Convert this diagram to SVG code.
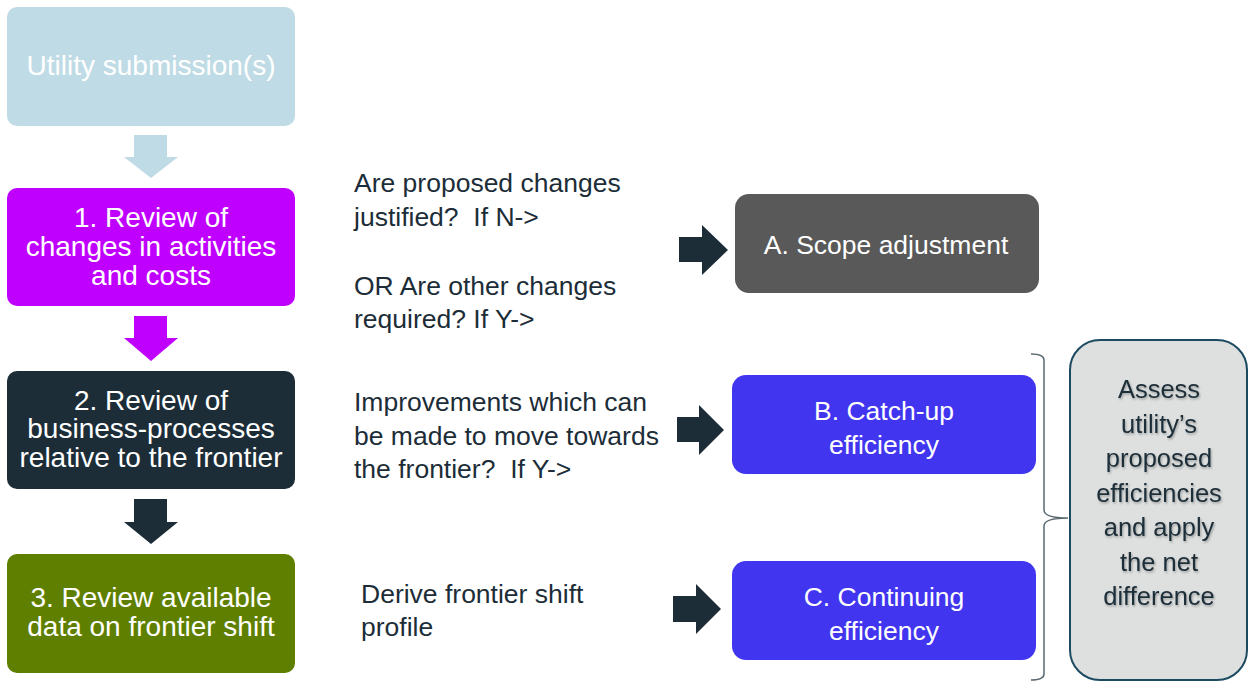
<svg xmlns="http://www.w3.org/2000/svg" width="1248" height="682" viewBox="0 0 1248 682">
<style>
.t{font-family:"Liberation Sans",Arial,sans-serif;text-anchor:middle;fill:#ffffff}
.b{font-size:28px}
.r{font-size:26.5px}
.m{font-family:"Liberation Sans",Arial,sans-serif;font-size:26.5px;fill:#1c2d38}
.dk{fill:#1c2d38}
.sh{font-family:"Liberation Sans",Arial,sans-serif;font-size:25.5px;text-anchor:middle;fill:#1c2d38}
</style>
<defs>
<filter id="shadow" x="-10%" y="-10%" width="120%" height="130%">
<feDropShadow dx="1" dy="1.5" stdDeviation="0.8" flood-color="#000" flood-opacity="0.3"/>
</filter>
</defs>
<rect width="1248" height="682" fill="#ffffff"/>
<g id="connectors">
<polygon points="134,135 167,135 167,157 178,157 151,178 124,157 134,157" fill="#bfdbe5"/>
<polygon points="134,316 167,316 167,338 178,338 151,361 124,338 134,338" fill="#c000ff"/>
<polygon points="134,499 167,499 167,522 178,522 151,544 124,522 134,522" fill="#1c2d38"/>
<polygon points="679,237 702,237 702,225 728,250 702,275 702,262 679,262" class="dk"/>
<polygon points="677,417 699,417 699,405 724,430 699,455 699,442 677,442" class="dk"/>
<polygon points="673,596 696,596 696,584 721,609 696,634 696,622 673,622" class="dk"/>
<path d="M1031,354 Q1044,354 1044,360 L1044,510 Q1044,518 1068,518 Q1044,518 1044,526 L1044,674 Q1044,680 1031,680" fill="none" stroke="#5a6870" stroke-width="1.5"/>
</g>
<g id="node-utility">
<rect x="7" y="7" width="288" height="119" rx="10" fill="#bfdbe5"/>
<text class="t b" x="151" y="75" fill="#f4f8fa">Utility submission(s)</text>
</g>
<g id="node-1">
<rect x="7" y="188" width="288" height="118" rx="10" fill="#c000ff"/>
<text class="t b" x="151" y="227">1. Review of</text>
<text class="t b" x="151" y="256">changes in activities</text>
<text class="t b" x="151" y="285">and costs</text>
</g>
<g id="node-2">
<rect x="7" y="371" width="288" height="118" rx="10" fill="#1c2d38"/>
<text class="t b" x="151" y="410">2. Review of</text>
<text class="t b" x="151" y="438">business-processes</text>
<text class="t b" x="151" y="467">relative to the frontier</text>
</g>
<g id="node-3">
<rect x="7" y="554" width="288" height="119" rx="10" fill="#5f7f00"/>
<text class="t b" x="151" y="607">3. Review available</text>
<text class="t b" x="151" y="636">data on frontier shift</text>
</g>
<g id="labels">
<text class="m" x="354" y="192">Are proposed changes</text>
<text class="m" x="354" y="226" xml:space="preserve">justified?  If N-&gt;</text>
<text class="m" x="354" y="295">OR Are other changes</text>
<text class="m" x="354" y="328">required? If Y-&gt;</text>
<text class="m" x="354" y="411">Improvements which can</text>
<text class="m" x="354" y="445">be made to move towards</text>
<text class="m" x="354" y="478" xml:space="preserve">the frontier?  If Y-&gt;</text>
<text class="m" x="361" y="603">Derive frontier shift</text>
<text class="m" x="361" y="636">profile</text>
</g>
<g id="node-A">
<rect x="735" y="194" width="304" height="99" rx="14" fill="#595959"/>
<text class="t r" x="886" y="254">A. Scope adjustment</text>
</g>
<g id="node-B">
<rect x="732" y="375" width="304" height="99" rx="14" fill="#4135f0"/>
<text class="t r" x="884" y="420">B. Catch-up</text>
<text class="t r" x="884" y="454">efficiency</text>
</g>
<g id="node-C">
<rect x="732" y="561" width="304" height="99" rx="14" fill="#4135f0"/>
<text class="t r" x="884" y="606">C. Continuing</text>
<text class="t r" x="884" y="640">efficiency</text>
</g>
<g id="node-assess">
<rect x="1070" y="340" width="177" height="340" rx="30" fill="#dedfdf" stroke="#1c4a60" stroke-width="2"/>
<g filter="url(#shadow)">
<text class="sh" x="1159" y="398">Assess</text>
<text class="sh" x="1159" y="433">utility’s</text>
<text class="sh" x="1159" y="467">proposed</text>
<text class="sh" x="1159" y="502">efficiencies</text>
<text class="sh" x="1159" y="536">and apply</text>
<text class="sh" x="1159" y="571">the net</text>
<text class="sh" x="1159" y="605">difference</text>
</g>
</g>
</svg>
